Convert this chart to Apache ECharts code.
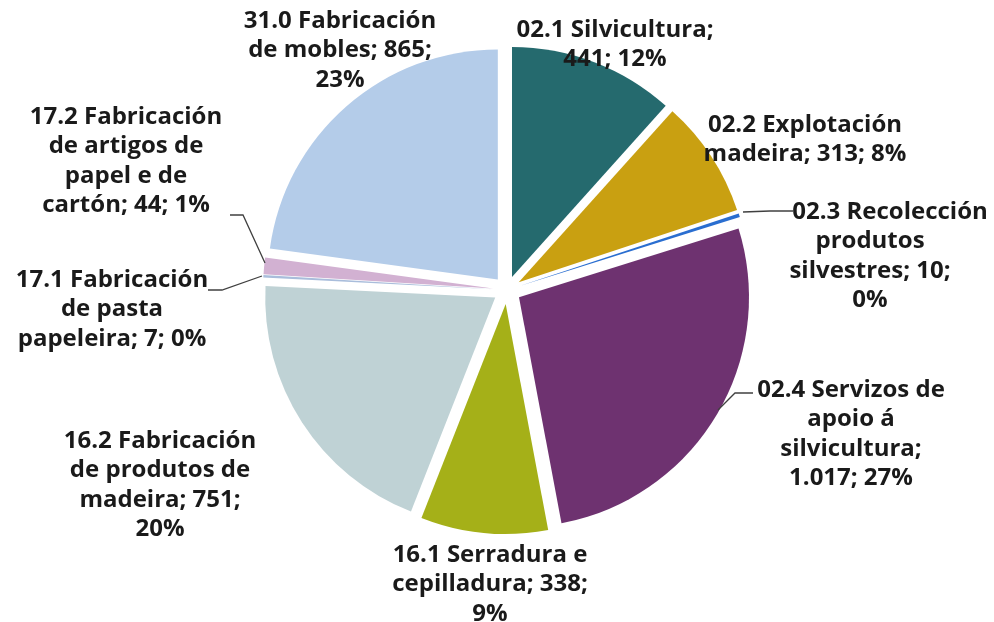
<!DOCTYPE html>
<html>
<head>
<meta charset="utf-8">
<script src="https://cdn.jsdelivr.net/npm/echarts@6/dist/echarts.min.js"></script>
<style>
    html, body { margin: 0; padding: 0; background: #fff; }
    #main { width: 994px; height: 622px; }
</style>
</head>
<body>
<div id="main"></div>
<script>
// datos do gráfico
var categories = ['02.1 Silvicultura', '02.2 Explotación madeira', '02.3 Recolección produtos silvestres',
    '02.4 Servizos de apoio á silvicultura', '16.1 Serradura e cepilladura', '16.2 Fabricación de produtos de madeira',
    '17.1 Fabricación de pasta papeleira', '17.2 Fabricación de artigos de papel e de cartón', '31.0 Fabricación de mobles'];
var values = [441, 313, 10, 1017, 338, 751, 7, 44, 865];
var colors = ['#256a6e', '#c9a011', '#2a6ed0', '#6e3270', '#a5b018', '#bfd2d5', '#a9bddb', '#d2b1d2', '#b4cce9'];
// texto das etiquetas con saltos de liña
var labelTpl = [
    '02.1 Silvicultura;\n{v}; {p}',
    '02.2 Explotación\nmadeira; {v}; {p}',
    '{s|02.3 Recolección}\nprodutos\nsilvestres; {v};\n{p}',
    '02.4 Servizos de\napoio á\nsilvicultura;\n{v}; {p}',
    '16.1 Serradura e\ncepilladura; {v};\n{p}',
    '16.2 Fabricación\nde produtos de\nmadeira; {v};\n{p}',
    '17.1 Fabricación\nde pasta\npapeleira; {v}; {p}',
    '17.2 Fabricación\nde artigos de\npapel e de\ncartón; {v}; {p}',
    '31.0 Fabricación\nde mobles; {v};\n{p}'
];
var showLine = [false, false, true, true, false, false, true, true, false];

// posicións das etiquetas (centro x, arriba y) e liñas guía
var labelPos = [[615, 15], [805, 110], [870, 197], [851, 375], [490, 540], [160, 426], [112, 265], [126, 102], [340, 6]];
var linePts = {
    2: [[743, 212], [770, 211], [793, 211]],
    3: [[718, 410], [735, 393], [753, 393]],
    6: [[262, 276], [222, 290], [208, 290]],
    7: [[265, 263], [243, 215], [230, 215]]
};

function fmtNum(n) {
    return String(n).replace(/\B(?=(\d{3})+(?!\d))/g, '.');
}

var pieBase = {
    type: 'pie',
    center: [507, 290],
    radius: 230,
    startAngle: 90,
    avoidLabelOverlap: false,
    emphasis: { disabled: true }
};

var chart = echarts.init(document.getElementById('main'));
chart.setOption({
    animation: false,
    series: [
        // porcións separadas
        Object.assign({}, pieBase, {
            selectedMode: 'multiple',
            selectedOffset: 14,
            label: { show: false },
            labelLine: { show: false },
            data: categories.map(function (c, i) {
                return { name: c, value: values[i], selected: true, itemStyle: { color: colors[i] } };
            })
        }),
        // etiquetas (mesmos datos, porcións transparentes)
        Object.assign({}, pieBase, {
            silent: true,
            z: 3,
            itemStyle: { color: 'rgba(0,0,0,0)' },
            data: categories.map(function (c, i) {
                return { name: c, value: values[i], labelLine: { show: showLine[i] } };
            }),
            label: {
                show: true,
                position: 'outside',
                color: '#1a1a1a',
                fontFamily: 'Open Sans',
                fontWeight: 'bold',
                fontSize: 24,
                lineHeight: 29.5,
                align: 'center',
                rich: {
                    s: {
                        color: '#1a1a1a',
                        fontFamily: 'Open Sans',
                        fontWeight: 'bold',
                        fontSize: 24,
                        lineHeight: 29.5,
                        padding: [0, 0, 0, 40]
                    }
                },
                formatter: function (p) {
                    return labelTpl[p.dataIndex]
                        .replace('{v}', fmtNum(p.value))
                        .replace('{p}', Math.round(p.percent) + '%');
                }
            },
            labelLine: {
                lineStyle: { color: '#404040', width: 1.3 },
                length: 10,
                length2: 10
            },
            labelLayout: function (params) {
                var i = params.dataIndex;
                var res = {
                    x: labelPos[i][0],
                    y: labelPos[i][1],
                    align: 'center',
                    verticalAlign: 'top'
                };
                if (linePts[i]) res.labelLinePoints = linePts[i];
                return res;
            }
        })
    ]
});
</script>
</body>
</html>
